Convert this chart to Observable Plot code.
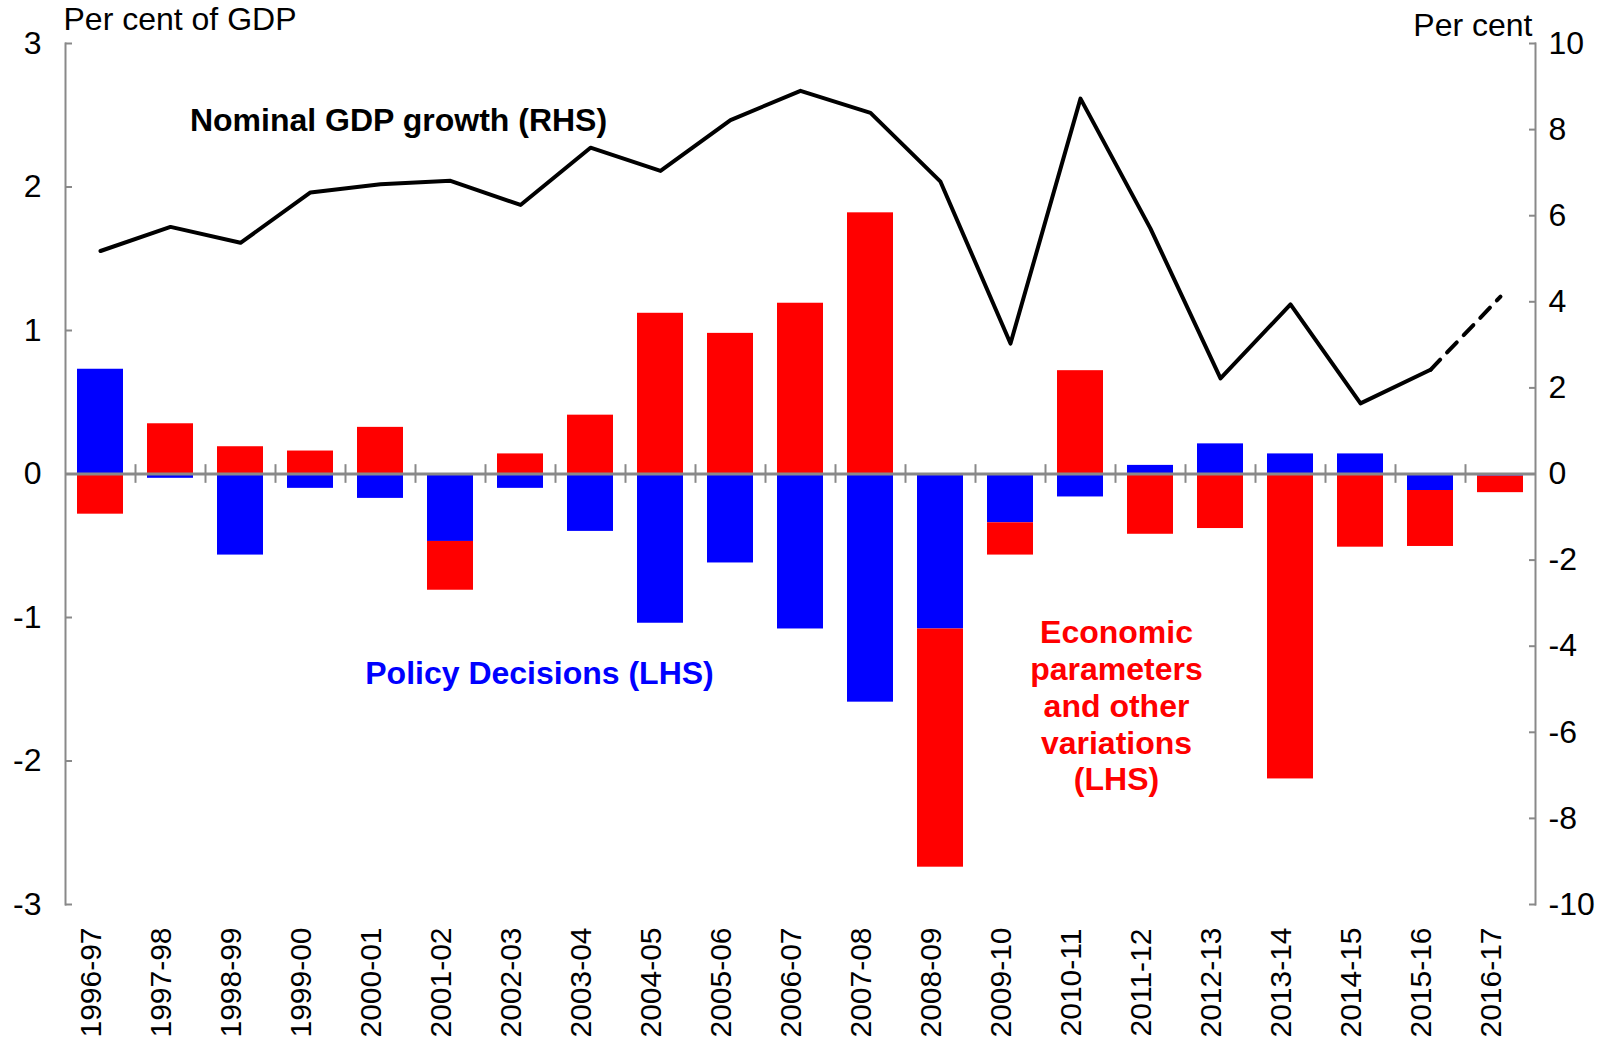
<!DOCTYPE html>
<html><head><meta charset="utf-8">
<script src="https://cdn.jsdelivr.net/npm/d3@7"></script>
<script src="https://cdn.jsdelivr.net/npm/@observablehq/plot@0.6"></script>
<style>
body{margin:0;background:#fff;}
svg{font-family:"Liberation Sans",Arial,sans-serif;}
</style>
</head><body><div id="chart"></div>
<script>
const years = ["1996-97","1997-98","1998-99","1999-00","2000-01","2001-02","2002-03","2003-04","2004-05","2005-06","2006-07","2007-08","2008-09","2009-10","2010-11","2011-12","2012-13","2013-14","2014-15","2015-16","2016-17"];
const policyDecisions = [0.73,-0.03,-0.565,-0.10,-0.17,-0.47,-0.10,-0.40,-1.04,-0.62,-1.08,-1.59,-1.08,-0.34,-0.16,0.06,0.21,0.14,0.14,-0.115,-0.015];
const economicParameters = [-0.28,0.35,0.19,0.16,0.325,-0.34,0.14,0.41,1.12,0.98,1.19,1.82,-1.66,-0.225,0.72,-0.42,-0.38,-2.125,-0.51,-0.39,-0.115];
const nominalGdpGrowth = [5.18,5.74,5.37,6.54,6.73,6.81,6.25,7.58,7.04,8.22,8.90,8.39,6.79,3.03,8.72,5.70,2.22,3.94,1.64,2.42,4.12];
const leftTicks = [-3,-2,-1,0,1,2,3];
const rightTicks = [-10,-8,-6,-4,-2,0,2,4,6,8,10];
const BLUE = "#0000ff", RED = "#ff0000", GREY = "#898989";

const W = 1619, H = 1056, ML = 65, MR = 84, MT = 43, MB = 152;
const PI = 0.34, PO = 0.17;
const step = (W - ML - MR) / (years.length - PI + 2 * PO);
const k = 6 / 20; // right-axis to left-axis factor

const rows = [
  ...years.map((y, i) => ({year: y, value: policyDecisions[i], color: BLUE})),
  ...years.map((y, i) => ({year: y, value: economicParameters[i], color: RED}))
];
const gdp = years.map((y, i) => ({year: y, g: nominalGdpGrowth[i]}));
const solid = gdp.slice(0, years.length - 1);
const dashed = gdp.slice(years.length - 2);

const font = 32;
const chart = Plot.plot({
  width: W, height: H,
  marginLeft: ML, marginRight: MR, marginTop: MT, marginBottom: MB,
  style: {fontFamily: '"Liberation Sans", Arial, sans-serif', background: "#fff", color: "#000"},
  x: {type: "band", domain: years, paddingInner: PI, paddingOuter: PO, axis: null},
  y: {domain: [-3, 3], axis: null},
  color: {type: "identity"},
  marks: [
    Plot.barY(rows, Plot.stackY({x: "year", y: "value", fill: "color", z: "color"})),
    Plot.ruleY([0], {stroke: GREY, strokeWidth: 3}),
    Plot.ruleX(years.slice(1), {x: d => d, dx: -step / 2, y1: -0.065, y2: 0.065, stroke: GREY, strokeWidth: 2}),
    Plot.frame({anchor: "left", stroke: GREY, strokeWidth: 2}),
    Plot.frame({anchor: "right", stroke: GREY, strokeWidth: 2}),
    Plot.axisY(leftTicks, {anchor: "left", tickSize: -7, tickPadding: 31, stroke: GREY, strokeWidth: 2, fontSize: font, tickFormat: d => String(d), label: null}),
    Plot.axisY(rightTicks.map(v => v * k), {anchor: "right", tickSize: -7, tickPadding: 20, stroke: GREY, strokeWidth: 2, fontSize: font, tickFormat: d => String(Math.round(d / k)), label: null}),
    Plot.line(solid, {x: "year", y: d => d.g * k, stroke: "#000", strokeWidth: 4}),
    Plot.line(dashed, {x: "year", y: d => d.g * k, stroke: "#000", strokeWidth: 4, strokeDasharray: "14,10"}),
    Plot.text(years, {x: d => d, frameAnchor: "bottom", rotate: -90, textAnchor: "middle", dy: 78, fontSize: 30, fill: "#000"}),
    Plot.text(["Per cent of GDP"], {frameAnchor: "top-left", textAnchor: "start", dx: -2, dy: -36, fontSize: font, fill: "#000"}),
    Plot.text(["Per cent"], {frameAnchor: "top-right", textAnchor: "end", dx: -3, dy: -30, fontSize: font, fill: "#000"}),
    Plot.text(["Nominal GDP growth (RHS)"], {x: () => "2000-01", y: () => 2.46, dx: 18, fontSize: font, fontWeight: "bold", fill: "#000"}),
    Plot.text(["Policy Decisions (LHS)"], {x: () => "2002-03", y: () => -1.39, dx: 19, fontSize: font, fontWeight: "bold", fill: BLUE}),
    Plot.text(["Economic\nparameters\nand other\nvariations\n(LHS)"], {x: () => "2010-11", y: () => -1.61, dx: 36, fontSize: font, fontWeight: "bold", fill: RED, lineHeight: 1.15})
  ]
});
document.getElementById("chart").appendChild(chart);
</script>
</body></html>
